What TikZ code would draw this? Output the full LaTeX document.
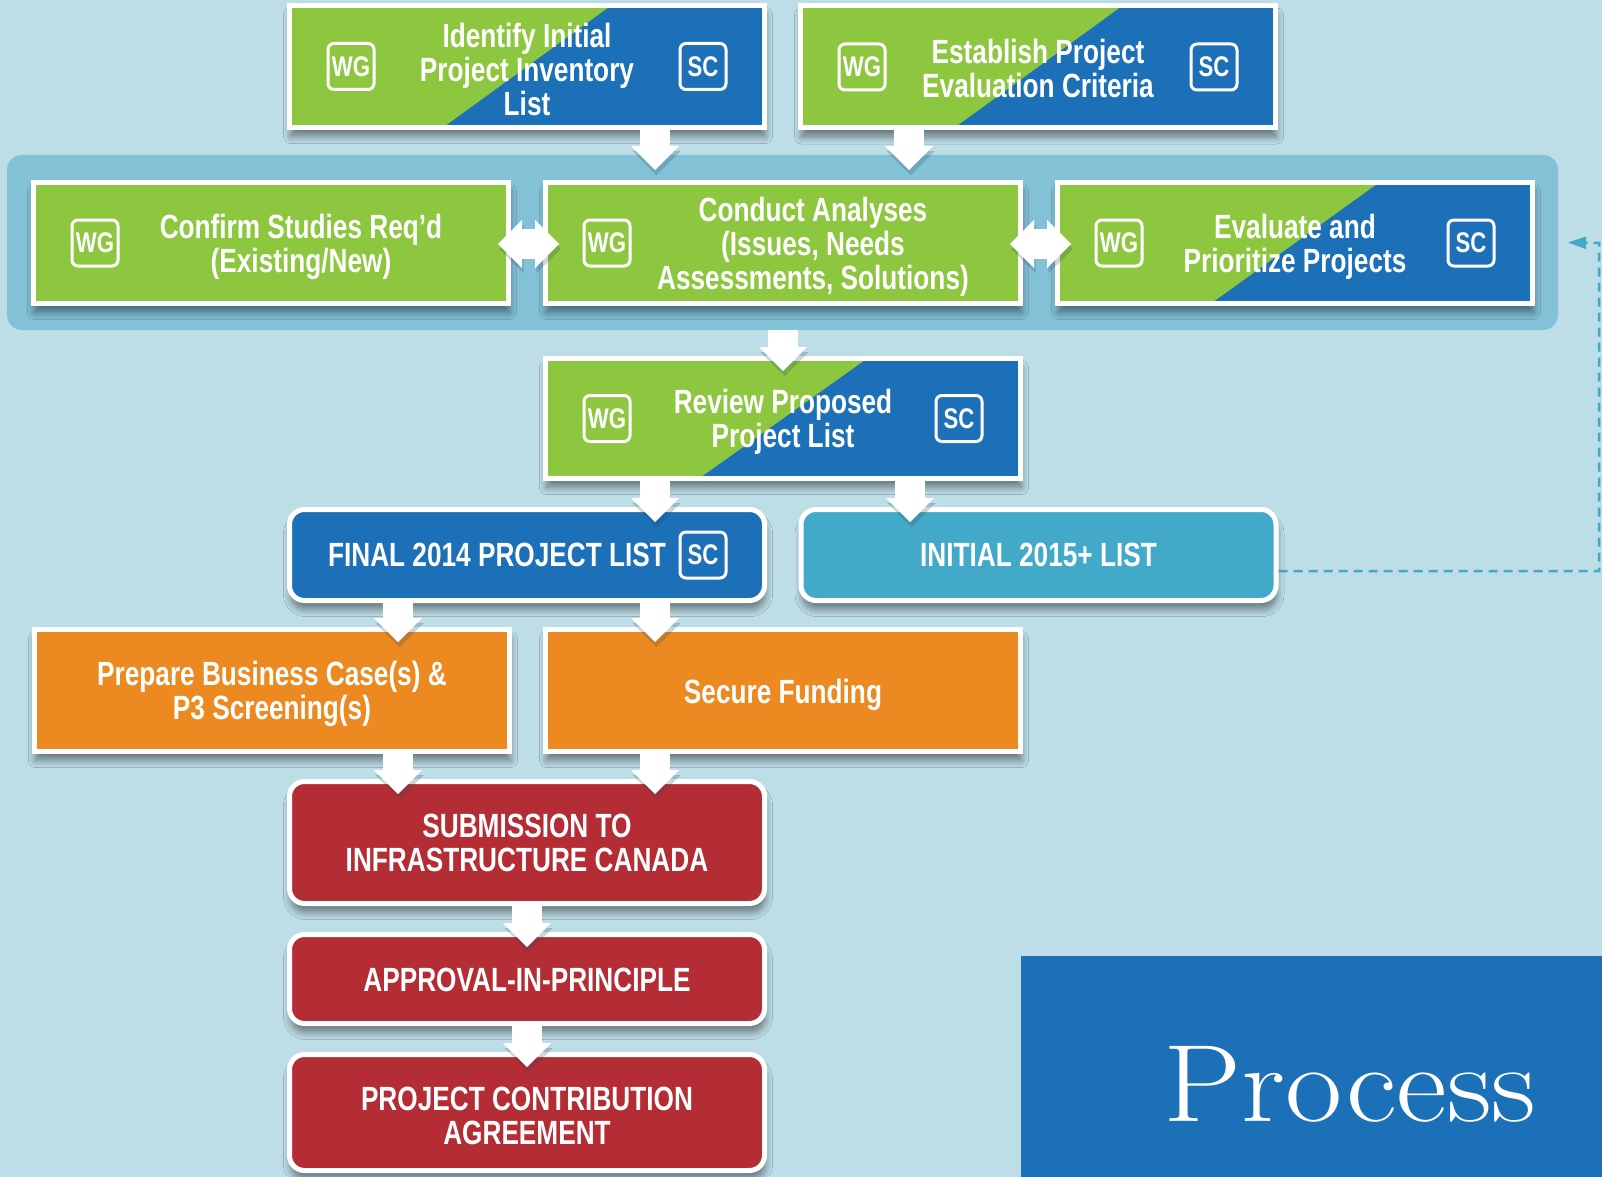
\documentclass[tikz,border=0pt]{standalone}
\usepackage{fontspec}
\newfontfamily\cnd[FakeStretch=0.78]{Liberation Sans}
\usetikzlibrary{calc,arrows.meta,shadows.blur}
\definecolor{bgc}{RGB}{189,221,231}
\definecolor{bandc}{RGB}{130,193,214}
\definecolor{sgreen}{RGB}{141,198,63}
\definecolor{sblue}{RGB}{28,112,184}
\definecolor{cteal}{RGB}{66,170,200}
\definecolor{corange}{RGB}{236,137,33}
\definecolor{cred}{RGB}{181,45,52}
\definecolor{shadc}{RGB}{40,70,90}
\newcommand\boxfont{\cnd\bfseries\fontsize{16.8}{17}\selectfont}
\newcommand\badgefont{\cnd\bfseries\fontsize{14.2}{15}\selectfont}
\begin{document}
\begin{tikzpicture}[x=0.5pt,y=-0.5pt,
  boxshadow/.style={blur shadow={shadow xshift=0.5pt, shadow yshift=-4.5pt, shadow blur steps=8, shadow opacity=45, shadow blur radius=3.5pt}},
  sqbox/.style={draw=white, line width=2.5pt, minimum width=237.5pt, minimum height=61pt, inner sep=0pt, boxshadow},
  rbox/.style={sqbox, rounded corners=7.5pt},
  split/.style={fill=sblue, path picture={\fill[sgreen] (path picture bounding box.north west) -- ([xshift=42pt]path picture bounding box.north) -- ([xshift=-42pt]path picture bounding box.south) -- (path picture bounding box.south west) -- cycle;}},
  badge/.style={draw=white, line width=1.5pt, rounded corners=3pt, minimum width=23pt, minimum height=23pt, inner sep=0pt, text=white, font=\badgefont},
  txt/.style={text=white, align=center, font=\boxfont, inner sep=0pt},
  arrshadow/.style={preaction={draw=shadc, opacity=0.22, transform canvas={xshift=0.8pt,yshift=-2.5pt}}},
  blk/.style={draw=white, line width=15pt, -{Triangle[length=12pt,width=24pt,line width=0.01pt]}, arrshadow},
  dblk/.style={draw=white, line width=15pt, {Triangle[length=12pt,width=24pt,line width=0.01pt]}-{Triangle[length=12pt,width=24pt,line width=0.01pt]}, arrshadow},
  fb/.style={draw=cteal, line width=1.25pt, dash pattern=on 4.5pt off 3pt, -{Triangle[length=9pt,width=6pt]}}
]
\fill[bgc] (0,0) rectangle (1602,1177);
\useasboundingbox (0,0) rectangle (1602,1177);

% band
\node[fill=bandc, rounded corners=7.5pt, minimum width=775.5pt, minimum height=87.5pt, inner sep=0pt, outer sep=0pt] (band) at (782.5,242.5) {};

% top row
\node[sqbox,split] (identify) at (527,66.5) {};
\node[txt] (identify-t) at ($(identify.center)+(0,3)$) {Identify Initial\\Project Inventory\\List};
\node[sqbox,split] (establish) at (1038,67) {};
\node[txt] (establish-t) at ($(establish.center)+(0,1)$) {Establish Project\\Evaluation Criteria};

% middle row
\node[sqbox,fill=sgreen,minimum height=60.5pt] (confirm) at (271,243) {};
\node[txt] (confirm-t) at ($(confirm.center)+(30,4)$) {Confirm Studies Req’d\\(Existing/New)};
\node[sqbox,fill=sgreen,minimum height=60.5pt] (conduct) at (783,243) {};
\node[txt] (conduct-t) at ($(conduct.center)+(30,4)$) {Conduct Analyses\\(Issues, Needs\\Assessments, Solutions)};
\node[sqbox,split,minimum height=60.5pt] (evaluate) at (1295,243) {};
\node[txt] (evaluate-t) at ($(evaluate.center)+(0,4)$) {Evaluate and\\Prioritize Projects};

% review
\node[sqbox,split,minimum height=60pt] (review) at (783,418.5) {};
\node[txt] (review-t) at ($(review.center)+(0,3)$) {Review Proposed\\Project List};

% lists
\node[rbox,fill=sblue,minimum height=45.5pt] (final) at (527,555) {};
\node[txt] (final-t) at ($(final.center)+(-30,0)$) {FINAL 2014 PROJECT LIST};
\node[rbox,fill=cteal,minimum height=45.5pt] (initial) at (1038.5,555) {};
\node[txt] (initial-t) at (initial.center) {INITIAL 2015+ LIST};

% orange
\node[sqbox,fill=corange] (prepare) at (272,690.5) {};
\node[txt] (prepare-t) at ($(prepare.center)+(0,3)$) {Prepare Business Case(s) \&\\P3 Screening(s)};
\node[sqbox,fill=corange] (secure) at (783,690.5) {};
\node[txt] (secure-t) at ($(secure.center)+(0,4)$) {Secure Funding};

% red
\node[rbox,fill=cred] (submission) at (527,842.5) {};
\node[txt] (submission-t) at (submission.center) {SUBMISSION TO\\INFRASTRUCTURE CANADA};
\node[rbox,fill=cred,minimum height=44.5pt] (approval) at (527,979) {};
\node[txt] (approval-t) at ($(approval.center)+(0,1)$) {APPROVAL-IN-PRINCIPLE};
\node[rbox,fill=cred,minimum height=58pt] (project) at (527,1112.5) {};
\node[txt] (project-t) at ($(project.center)+(0,3)$) {PROJECT CONTRIBUTION\\AGREEMENT};

% badges
\node[badge] (identify-wg) at ($(identify.west)+(64,0)$) {WG};
\node[badge] (identify-sc) at ($(identify.east)+(-64,0)$) {SC};
\node[badge] (establish-wg) at ($(establish.west)+(64,0)$) {WG};
\node[badge] (establish-sc) at ($(establish.east)+(-64,0)$) {SC};
\node[badge] (confirm-wg) at ($(confirm.west)+(64,0)$) {WG};
\node[badge] (conduct-wg) at ($(conduct.west)+(64,0)$) {WG};
\node[badge] (evaluate-wg) at ($(evaluate.west)+(64,0)$) {WG};
\node[badge] (evaluate-sc) at ($(evaluate.east)+(-64,0)$) {SC};
\node[badge] (review-wg) at ($(review.west)+(64,0)$) {WG};
\node[badge] (review-sc) at ($(review.east)+(-64,0)$) {SC};
\node[badge] (final-sc) at ($(final.east)+(-64,0)$) {SC};

% block arrows
\coordinate (a1) at ($(identify.south)+(128,0)$);
\draw[blk] (a1) -- ($(a1 |- band.north)+(0,15)$);
\coordinate (a2) at ($(establish.south)+(-129,0)$);
\draw[blk] (a2) -- ($(a2 |- band.north)+(0,15)$);
\coordinate (a3) at (conduct.south |- band.south);
\draw[blk] (a3) -- ($(review.north)+(0,15)$);
\coordinate (a4) at ($(review.south)+(-128,0)$);
\draw[blk] (a4) -- ($(a4 |- final.north)+(0,15)$);
\coordinate (a5) at ($(review.south)+(127,0)$);
\draw[blk] (a5) -- ($(a5 |- initial.north)+(0,15)$);
\coordinate (a6) at ($(final.south)+(-129,0)$);
\draw[blk] (a6) -- ($(a6 |- prepare.north)+(0,15)$);
\coordinate (a7) at ($(final.south)+(128,0)$);
\draw[blk] (a7) -- ($(a7 |- secure.north)+(0,15)$);
\coordinate (a8) at ($(prepare.south)+(126,0)$);
\draw[blk] (a8) -- ($(a8 |- submission.north)+(0,15)$);
\coordinate (a9) at ($(secure.south)+(-128,0)$);
\draw[blk] (a9) -- ($(a9 |- submission.north)+(0,15)$);
\draw[blk] (submission.south) -- ($(approval.north)+(0,15)$);
\draw[blk] (approval.south) -- ($(project.north)+(0,15)$);
\draw[dblk] ($(confirm.east)+(-13,1)$) -- ($(conduct.west)+(16,1)$);
\draw[dblk] ($(conduct.east)+(-13,1)$) -- ($(evaluate.west)+(16,1)$);

% feedback dashed line
\coordinate (fb0) at ($(initial.east)+(0,16)$);
\coordinate (fbx) at (1599,243);
\coordinate (fbtip) at ($(band.east)+(10,0)$);
\draw[fb] (fb0) -| (fbx) -- (fbtip);

% process panel
\fill[sblue] (1021,956) rectangle (1602,1177);
\node[text=white, anchor=base, inner sep=0pt, font=\fontsize{55}{60}\selectfont] (proc) at (1350,1121) {\scalebox{1.13}[1]{Process}};
\end{tikzpicture}
\end{document}
